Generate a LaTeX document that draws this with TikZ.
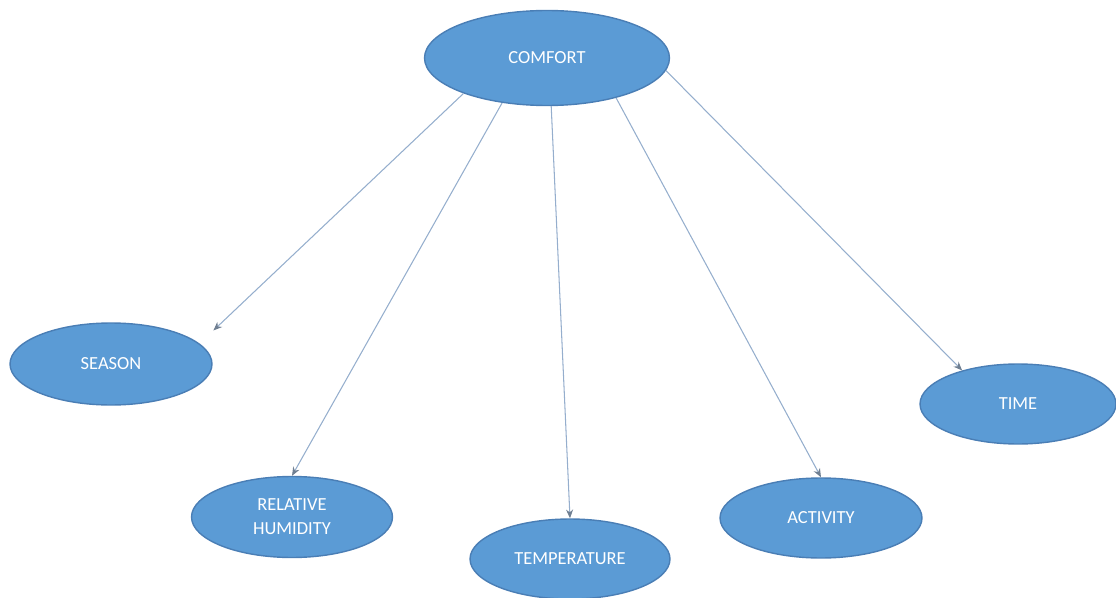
\documentclass[tikz,border=0pt]{standalone}
\usepackage{fontspec}
\setmainfont{Carlito}
\usetikzlibrary{shapes.geometric,arrows.meta}
\definecolor{bubblefill}{HTML}{5B9BD5}
\definecolor{bubbleedge}{HTML}{4A7EB5}
\definecolor{linkcol}{HTML}{95AECD}
\definecolor{tipcol}{HTML}{6F7F92}
\tikzset{
  bubble/.style={ellipse, draw=bubbleedge, fill=bubblefill, line width=0.8pt,
    inner sep=0pt, text=white, align=center,
    font=\fontsize{10.5}{13.6}\selectfont},
  link/.style={draw=linkcol, line width=0.6pt,
    -{Stealth[length=5pt,width=4pt,color=tipcol]}}
}
\begin{document}
\begin{tikzpicture}[x=0.02cm,y=-0.02cm]
\useasboundingbox (0,0) rectangle (1116,598);
\node[bubble, minimum width=4.9cm, minimum height=1.9cm] (comfort) at (547,58) {COMFORT};
\node[bubble, minimum width=4.04cm, minimum height=1.64cm] (season) at (111,364) {SEASON};
\node[bubble, minimum width=4.02cm, minimum height=1.62cm] (humidity) at (292,517) {RELATIVE\\HUMIDITY};
\node[bubble, minimum width=4.0cm, minimum height=1.6cm] (temp) at (570,559) {TEMPERATURE};
\node[bubble, minimum width=4.04cm, minimum height=1.6cm] (activity) at (821,518) {ACTIVITY};
\node[bubble, minimum width=3.92cm, minimum height=1.6cm] (time) at (1018,404) {TIME};

\draw[link, shorten >=0.38cm] (comfort.203) -- (season.13.6);
\draw[link] (comfort.225) -- (humidity.90);
\draw[link] (comfort.275.7) -- (temp.90);
\draw[link] (comfort.330) -- (activity.90);
\draw[link] (comfort.354.4) -- (time.149.5);
\end{tikzpicture}
\end{document}
